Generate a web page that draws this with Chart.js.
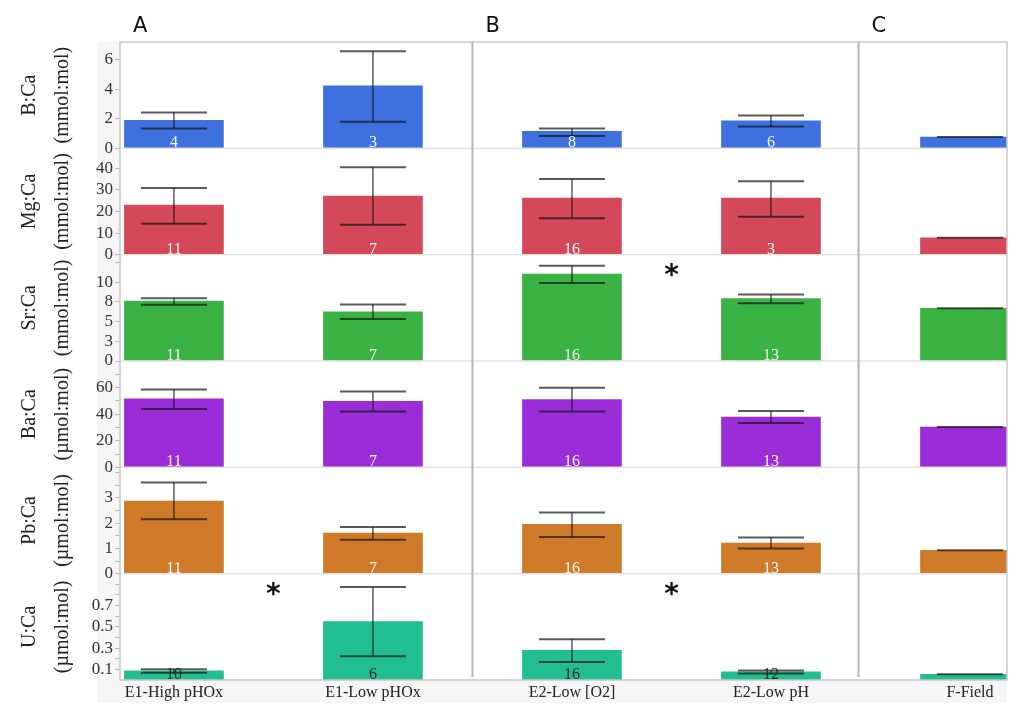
<!DOCTYPE html>
<html>
<head>
<meta charset="utf-8">
<script src="https://cdn.jsdelivr.net/npm/chart.js@4.4.1/dist/chart.umd.min.js"></script>
<style>
  html, body { margin: 0; padding: 0; background: #fff; }
  #wrap { width: 1024px; height: 718px; position: relative; }
</style>
</head>
<body>
<div id="wrap"><canvas id="myChart"></canvas></div>
<script>
// Treatments along the x axis and the three experiment groups
const categories = ['E1-High pHOx', 'E1-Low pHOx', 'E2-Low [O2]', 'E2-Low pH', 'F-Field'];
const groupLabels = ['A', 'B', 'C'];
const groupBreaks = [1.5, 3.44];

// Row titles (ratio, unit)
const rowTitles = [
    ['B:Ca', '(mmol:mol)'],
    ['Mg:Ca', '(mmol:mol)'],
    ['Sr:Ca', '(mmol:mol)'],
    ['Ba:Ca', '(\u00b5mol:mol)'],
    ['Pb:Ca', '(\u00b5mol:mol)'],
    ['U:Ca', '(\u00b5mol:mol)']
];
const rowColors = ['#3f70e0', '#d4485a', '#3ab143', '#9b2dd9', '#cf7a28', '#21be8f'];

// B:Ca
const bMean = [1.90, 4.24, 1.15, 1.87, 0.76];
const bLo   = [1.35, 1.80, 0.83, 1.47, 0.76];
const bHi   = [2.43, 6.57, 1.35, 2.23, 0.76];
const bN    = [4, 3, 8, 6, null];
// Mg:Ca
const mgMean = [22.9, 27.1, 26.2, 26.2, 7.8];
const mgLo   = [14.3, 13.8, 16.9, 17.5, 7.8];
const mgHi   = [30.9, 40.4, 35.0, 34.0, 7.8];
const mgN    = [11, 7, 16, 3, null];
// Sr:Ca
const srMean = [7.60, 6.24, 11.05, 7.94, 6.70];
const srLo   = [7.13, 5.32, 9.90, 7.34, 6.70];
const srHi   = [7.97, 7.17, 12.10, 8.44, 6.70];
const srN    = [11, 7, 16, 13, null];
// Ba:Ca
const baMean = [51.6, 49.6, 50.9, 37.8, 30.3];
const baLo   = [43.8, 42.1, 42.1, 33.3, 30.3];
const baHi   = [58.6, 57.1, 59.9, 42.3, 30.3];
const baN    = [11, 7, 16, 13, null];
// Pb:Ca
const pbMean = [2.87, 1.60, 1.95, 1.21, 0.92];
const pbLo   = [2.15, 1.34, 1.45, 0.99, 0.92];
const pbHi   = [3.60, 1.84, 2.42, 1.43, 0.92];
const pbN    = [11, 7, 16, 13, null];
// U:Ca
const uMean = [0.087, 0.55, 0.279, 0.077, 0.053];
const uLo   = [0.068, 0.223, 0.170, 0.062, 0.053];
const uHi   = [0.100, 0.875, 0.384, 0.090, 0.053];
const uN    = [10, 6, 16, 12, null];

// Axis ranges and ticks per row
const rowMax = [7.2, 49.2, 13.5, 80, 4.2, 1.0];
const bTicks  = [0, 2, 4, 6];
const mgTicks = [0, 10, 20, 30, 40];
const srTicks = [0, 2.5, 5, 7.5, 10, 12.5];
const baTicks = [0, 10, 20, 30, 40, 50, 60, 70];
const pbTicks = [0, 0.5, 1, 1.5, 2, 2.5, 3, 3.5, 4];
const uTicks  = [0.1, 0.2, 0.3, 0.4, 0.5, 0.6, 0.7, 0.8, 0.9];
const bTickLabels  = ['0', '2', '4', '6'];
const mgTickLabels = ['0', '10', '20', '30', '40'];
const srTickLabels = ['0', '3', '5', '8', '10', ''];
const baTickLabels = ['0', '', '20', '', '40', '', '60', ''];
const pbTickLabels = ['0', '', '1', '', '2', '', '3', '', ''];
const uTickLabels  = ['0.1', '', '0.3', '', '0.5', '', '0.7', '', ''];

// Significance marks: row and position between treatments
const stars = [
    { row: 2, at: 2.5 },
    { row: 5, at: 0.5 },
    { row: 5, at: 2.5 }
];

const rowMeans = [bMean, mgMean, srMean, baMean, pbMean, uMean];
const rowLo = [bLo, mgLo, srLo, baLo, pbLo, uLo];
const rowHi = [bHi, mgHi, srHi, baHi, pbHi, uHi];
const rowN = [bN, mgN, srN, baN, pbN, uN];
const rowTicks = [bTicks, mgTicks, srTicks, baTicks, pbTicks, uTicks];
const rowTickLabels = [bTickLabels, mgTickLabels, srTickLabels, baTickLabels, pbTickLabels, uTickLabels];
const rowIds = rowTitles.map((t, i) => 'y' + i);

const serif = '"Liberation Serif", "Times New Roman", serif';

function line(ctx, x1, y1, x2, y2) {
    ctx.beginPath();
    ctx.moveTo(x1, y1);
    ctx.lineTo(x2, y2);
    ctx.stroke();
}

// Frame, error bars, counts and labels
const decor = {
    id: 'decor',
    beforeDraw(chart) {
        const { ctx, chartArea: a } = chart;
        ctx.save();
        ctx.fillStyle = '#f6f6f6';
        ctx.fillRect(97, a.top, a.left - 97, a.bottom - a.top);
        ctx.fillRect(97, a.bottom, a.right - 97, 23);
        ctx.restore();
    },
    afterDatasetsDraw(chart) {
        const { ctx, chartArea: a, scales } = chart;
        const xs = scales.x;
        ctx.save();

        // row separators
        ctx.strokeStyle = '#e3e3e3';
        ctx.lineWidth = 1.5;
        rowIds.forEach((id) => {
            const yb = scales[id].bottom;
            if (yb < a.bottom - 1) line(ctx, a.left, yb, a.right, yb);
        });

        // outer frame
        ctx.strokeStyle = '#c8c8c8';
        ctx.lineWidth = 1.5;
        ctx.strokeRect(a.left, a.top, a.right - a.left, a.bottom - a.top);

        // group separators
        ctx.strokeStyle = '#b4b4b4';
        ctx.lineWidth = 2;
        groupBreaks.forEach(b => {
            const px = xs.getPixelForValue(b);
            line(ctx, px, a.top, px, a.bottom - 3);
        });

        // error bars
        ctx.strokeStyle = 'rgba(20, 20, 20, 0.7)';
        rowIds.forEach((id, r) => {
            const ys = scales[id];
            categories.forEach((c, i) => {
                const cx = xs.getPixelForValue(i);
                const lo = ys.getPixelForValue(rowLo[r][i]);
                const hi = ys.getPixelForValue(rowHi[r][i]);
                ctx.lineWidth = 1.5;
                line(ctx, cx, lo, cx, hi);
                ctx.lineWidth = 2;
                line(ctx, cx - 33, lo, cx + 33, lo);
                if (hi !== lo) line(ctx, cx - 33, hi, cx + 33, hi);
            });
        });

        // sample counts at the bar bases
        ctx.font = '16px ' + serif;
        ctx.textAlign = 'center';
        ctx.textBaseline = 'alphabetic';
        rowIds.forEach((id, r) => {
            const ys = scales[id];
            ctx.fillStyle = r === rowIds.length - 1 ? '#1e2a26' : 'rgba(255, 255, 255, 0.95)';
            rowN[r].forEach((n, i) => {
                if (n === null) return;
                ctx.fillText(String(n), xs.getPixelForValue(i), ys.getPixelForValue(0) - 1);
            });
        });

        // significance stars
        ctx.fillStyle = '#111';
        ctx.font = 'bold 28px "DejaVu Sans", sans-serif';
        ctx.textBaseline = 'middle';
        stars.forEach(s => {
            ctx.fillText('*', xs.getPixelForValue(s.at), scales[rowIds[s.row]].top + 22);
        });

        // group letters
        ctx.font = '21px "DejaVu Sans", sans-serif';
        ctx.textAlign = 'left';
        ctx.textBaseline = 'alphabetic';
        const edges = [a.left].concat(groupBreaks.map(b => xs.getPixelForValue(b)));
        groupLabels.forEach((g, k) => ctx.fillText(g, edges[k] + 13, 32));

        ctx.restore();
    }
};

const scales = {
    x: {
        type: 'linear',
        position: 'bottom',
        offset: false,
        min: -0.271,
        max: 4.186,
        afterBuildTicks: s => { s.ticks = categories.map((c, i) => ({ value: i })); },
        afterFit: s => { s.height = 38; },
        ticks: {
            autoSkip: false,
            maxRotation: 0,
            padding: 3,
            color: '#222',
            font: { family: serif, size: 16 },
            callback: v => categories[v]
        },
        grid: { display: false, drawTicks: false, offset: false },
        border: { display: false }
    }
};

// stacked left axes: the last one added is placed on top, so add them bottom-up
rowIds.slice().reverse().forEach((id) => {
    const r = rowIds.indexOf(id);
    scales[id] = {
        type: 'linear',
        position: 'left',
        stack: 'rows',
        stackWeight: 1,
        min: 0,
        max: rowMax[r],
        afterBuildTicks: s => { s.ticks = rowTicks[r].map(v => ({ value: v })); },
        afterFit: s => { s.width = 120; },
        ticks: {
            autoSkip: false,
            padding: 2,
            color: '#333',
            font: { family: serif, size: 17 },
            callback: (v, i) => rowTickLabels[r][i]
        },
        grid: { drawOnChartArea: false, tickLength: 5, color: '#b8b8b8' },
        border: { display: false },
        title: {
            display: true,
            text: rowTitles[r],
            color: '#222',
            font: { family: serif, size: 20, lineHeight: 1.65 },
            padding: { top: 13, bottom: 0 }
        }
    };
});

const ctx = document.getElementById('myChart').getContext('2d');
let myChart = new Chart(ctx, {
    type: 'bar',
    data: {
        datasets: rowIds.map((id, r) => ({
            label: rowTitles[r][0],
            data: rowMeans[r].map((v, i) => ({ x: i, y: v })),
            yAxisID: id,
            backgroundColor: rowColors[r],
            borderWidth: 0,
            barThickness: 99,
            grouped: false
        }))
    },
    options: {
        responsive: true,
        maintainAspectRatio: false,
        animation: false,
        layout: { padding: { top: 42, right: 17, bottom: 0, left: 0 } },
        plugins: {
            legend: { display: false },
            tooltip: { enabled: false }
        },
        scales: scales
    },
    plugins: [decor]
});
</script>
</body>
</html>
